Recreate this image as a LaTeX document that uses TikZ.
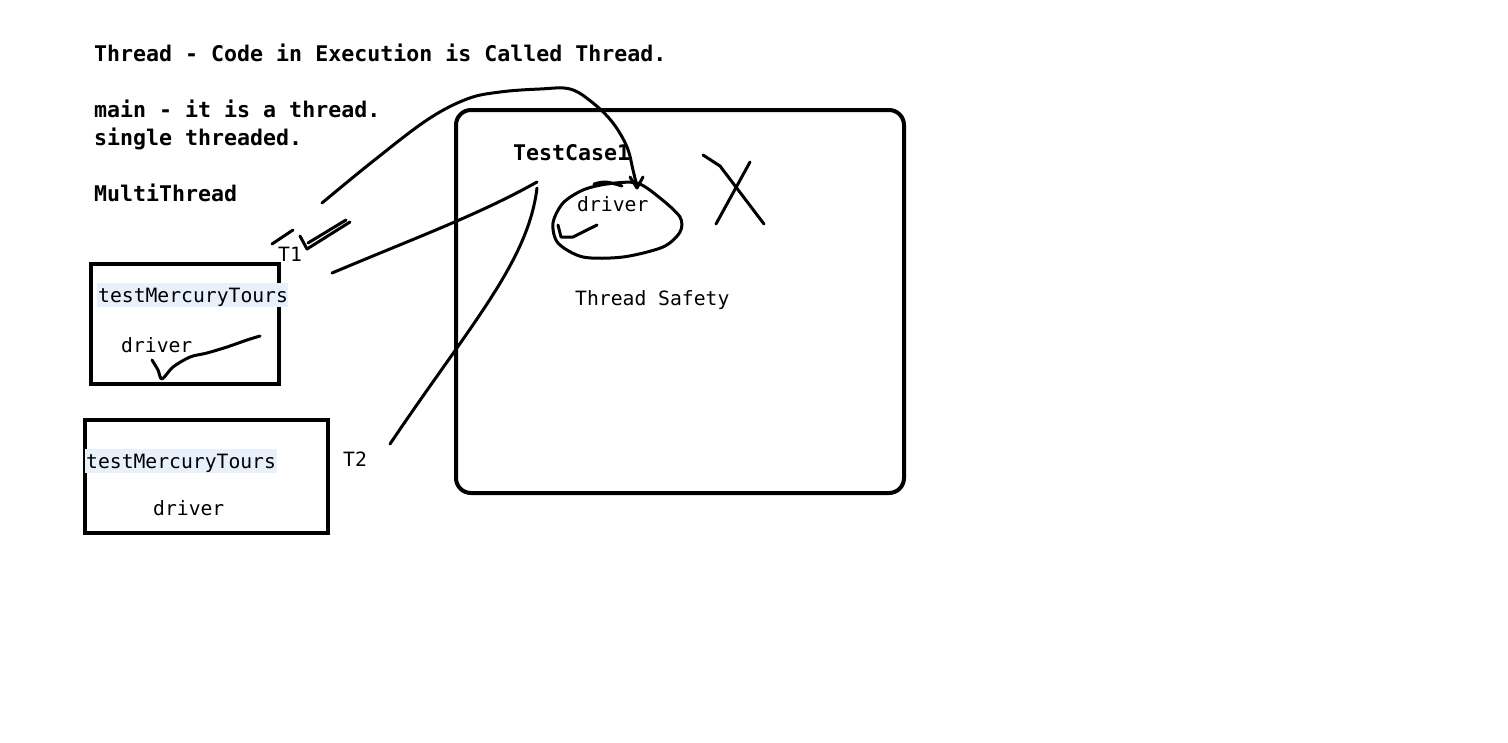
\documentclass[tikz,border=0pt]{standalone}
\usepackage{fontspec}
\setmonofont{DejaVu Sans Mono}
\usepackage{tikz}
\usetikzlibrary{positioning}
\definecolor{hiblue}{HTML}{E8F0FC}
\tikzset{
    txt/.style={anchor=base west, inner sep=0pt, font=\ttfamily\fontsize{19.7}{20}\selectfont}, % 普通文字
    headtxt/.style={txt, font=\ttfamily\bfseries\fontsize{21.6}{22}\selectfont}, % 粗体标题
    frame/.style={draw, line width=4pt}, % 方框
    pen/.style={line width=3pt, line cap=round, line join=round} % 手写笔画
}

\begin{document}
\begin{tikzpicture}[x=1pt, y=-1pt]
    \useasboundingbox[fill=white] (0,0) rectangle (1508,742);

    % 标题文字
    \node (title) [headtxt] at (94, 61) {Thread - Code in Execution is Called Thread.};
    \node (mainline) [headtxt] at (94, 117) {main - it is a thread.};
    \node (single) [headtxt] at (94, 145) {single threaded.};
    \node (multi) [headtxt] at (94, 201) {MultiThread};

    % 左侧两个测试框
    \draw[frame] (91, 264) rectangle (279, 384);
    \fill[hiblue] (97, 283) rectangle (288, 307);
    \node (tmt1) [txt] at (98, 302) {testMercuryTours};
    \node (drv1) [txt] at (121, 352) {driver};
    \node (t1) [txt] at (278, 261) {T1};

    \draw[frame] (85, 420) rectangle (328, 533);
    \fill[hiblue] (85, 449) rectangle (277, 473);
    \node (tmt2) [txt] at (86, 468) {testMercuryTours};
    \node (drv2) [txt] at (153, 515) {driver};
    \node (t2) [txt] at (343, 466) {T2};

    % 右侧大框
    \draw[frame, rounded corners=15pt] (456, 110) rectangle (904, 493);
    \node (tc1) [headtxt] at (513, 160) {TestCase1};
    \node (drv3) [txt] at (577, 211) {driver};
    \node (safety) [txt] at (575, 305) {Thread Safety};

    % 手写笔画
    \draw[pen] plot[smooth, tension=0.6] coordinates {(322,203) (372,162) (427,120) (467,99)
        (500,92) (540,89) (570,89) (593,103) (613,123) (627,147) (633,170) (637,187)};
    \draw[pen] (630,177) -- (637,188) -- (643,177); % 箭头
    \draw[pen] (272,244) -- (293,230); % T1 旁短线
    \draw[pen] (300,236) -- (307,249) -- (350,222); % T1 箭头
    \draw[pen] (308,243) -- (346,220);
    \draw[pen] (332,273) .. controls (420,236) and (480,214) .. (537,182);
    \draw[pen] (537,188) .. controls (528,262) and (470,325) .. (390,444);

    % driver 圈
    \draw[pen] plot[smooth cycle] coordinates {(637,183) (660,198) (680,217) (680,232) (663,247) (623,257)
        (583,257) (558,243) (553,223) (563,203) (583,190) (607,184)};
    \draw[pen] (594,184) .. controls (605,181) .. (622,186);
    \draw[pen] (558,225) -- (561,237) -- (573,237) -- (597,225); % 勾

    % 叉
    \draw[pen] (703,155) -- (720,166) -- (764,224);
    \draw[pen] (750,162) -- (716,224);

    % 左框中的勾
    \draw[pen] plot[smooth] coordinates {(152,360) (158,370) (162,379) (173,367) (190,357) (207,353) (227,347) (247,340) (260,336)};
\end{tikzpicture}
\end{document}
